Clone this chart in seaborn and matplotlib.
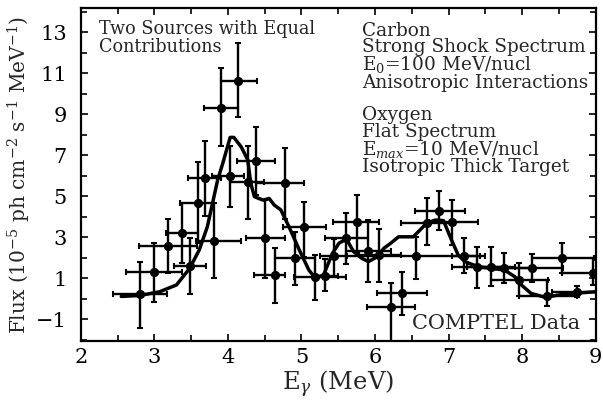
import matplotlib
matplotlib.use("Agg")
import matplotlib.pyplot as plt
import seaborn as sns
import numpy as np
import pandas as pd
from matplotlib.ticker import MultipleLocator, FixedLocator

# ---- data points ----
energy = [2.81, 3.00, 3.19, 3.38, 3.48, 3.59, 3.69, 3.81, 3.91, 4.14, 4.03, 4.27, 4.38, 4.78,
          4.51, 4.64, 5.04, 4.91, 5.19, 5.32, 5.44, 5.61, 5.75, 5.90, 6.05, 6.22, 6.36, 6.55,
          6.70, 6.87, 7.04, 7.21, 7.39, 7.58, 7.75, 7.96, 8.14, 8.34, 8.54, 8.74, 8.96]
flux = [0.20, 1.28, 2.55, 3.18, 1.57, 4.68, 5.88, 2.83, 9.30, 10.62, 6.00, 5.70, 6.71, 5.62,
        2.94, 1.15, 3.47, 1.96, 1.05, 1.12, 2.05, 2.94, 3.75, 2.33, 2.12, -0.43, 0.25, 2.05,
        3.67, 4.27, 3.75, 2.07, 1.52, 1.55, 1.47, 0.90, 1.50, 0.12, 2.00, 0.33, 1.26]
e_low = [2.44, 2.62, 2.79, 3.16, 3.27, 3.35, 3.46, 3.57, 3.67, 3.91, 3.79, 4.03, 4.12, 4.38,
         4.24, 4.36, 4.75, 4.64, 4.90, 5.15, 5.25, 5.32, 5.43, 5.60, 5.78, 5.89, 6.03, 5.60,
         6.35, 6.54, 6.73, 7.04, 7.04, 7.25, 7.40, 7.58, 7.75, 7.96, 8.14, 8.40, 8.54]
e_high = [3.17, 3.37, 3.58, 3.59, 3.70, 3.80, 3.91, 4.18, 4.14, 4.39, 4.22, 4.49, 4.64, 5.04,
          4.78, 4.78, 5.33, 5.19, 5.61, 5.50, 5.62, 5.90, 6.06, 6.21, 6.35, 6.54, 6.70, 7.50,
          7.02, 7.22, 7.40, 7.42, 7.75, 7.90, 8.10, 8.35, 8.55, 8.75, 8.98, 9.00, 9.30]
f_low = [-1.44, -0.16, 1.26, 1.75, 0.22, 2.69, 4.04, 0.98, 7.45, 8.87, 4.48, 3.88, 5.05, 3.90,
         0.98, -0.20, 2.01, 0.66, -0.07, 0.37, 1.10, 1.68, 2.20, 0.82, 0.82, -2.10, -0.80, 0.94,
         2.61, 3.34, 2.61, 1.23, 0.53, 0.61, 0.74, 0.12, 0.79, -0.37, 1.23, 0.09, 0.66]
f_high = [1.80, 2.69, 3.86, 4.64, 2.97, 6.64, 7.68, 4.64, 11.26, 12.45, 7.45, 7.45, 8.38, 7.36,
          4.80, 2.48, 4.69, 3.26, 2.12, 1.95, 2.89, 4.19, 5.05, 3.83, 3.37, 0.77, 1.28, 2.99,
          4.88, 5.24, 4.80, 2.94, 2.50, 2.50, 2.23, 1.72, 2.16, 0.90, 2.69, 0.61, 1.99]

# ---- model curve ----
model_e = [2.55, 2.81, 3.07, 3.30, 3.48, 3.61, 3.72, 3.79, 3.86, 3.93, 4.03, 4.08, 4.18, 4.27,
           4.31, 4.36, 4.42, 4.48, 4.56, 4.63, 4.72, 4.83, 4.97, 5.10, 5.19, 5.30, 5.42, 5.51,
           5.61, 5.71, 5.82, 5.91, 6.03, 6.12, 6.21, 6.32, 6.52, 6.70, 6.82, 6.93, 7.04, 7.13,
           7.22, 7.40, 7.76, 7.90, 7.99, 8.12, 8.31, 8.58, 9.00]
model_f = [0.10, 0.15, 0.33, 0.66, 1.47, 2.37, 3.50, 4.64, 5.78, 6.60, 7.86, 7.86, 7.40, 6.76,
           5.62, 4.97, 4.88, 4.80, 4.88, 4.56, 4.32, 3.50, 2.37, 1.39, 0.99, 1.15, 2.20, 2.70,
           2.90, 2.28, 1.96, 1.80, 2.04, 2.45, 2.69, 3.01, 3.01, 3.67, 3.83, 3.80, 2.85, 2.12,
           1.80, 1.55, 1.39, 1.06, 0.66, 0.25, 0.06, 0.22, 0.33]

x_ticks = [2, 3, 4, 5, 6, 7, 8, 9]
y_ticks = [-1, 1, 3, 5, 7, 9, 11, 13]

sns.set_style("ticks")
plt.rcParams['font.family'] = ['DejaVu Serif']
plt.rcParams['mathtext.fontset'] = 'dejavuserif'

fig, ax = plt.subplots(figsize=(6.03, 4.03), dpi=100)
fig.subplots_adjust(left=0.134, right=0.988, top=0.980, bottom=0.154)

pts = pd.DataFrame({"E": energy, "F": flux})
e_arr = np.array(energy); f_arr = np.array(flux)
xerr = [e_arr - np.array(e_low), np.array(e_high) - e_arr]
yerr = [f_arr - np.array(f_low), np.array(f_high) - f_arr]
ax.errorbar(energy, flux, xerr=xerr, yerr=yerr, fmt='none', ecolor='black',
            elinewidth=1.7, capsize=2.2, capthick=1.5, zorder=2)
sns.scatterplot(data=pts, x="E", y="F", ax=ax, color='black', s=44, edgecolor='black',
                linewidth=0, zorder=3)
curve = pd.DataFrame({"E": model_e, "F": model_f})
sns.lineplot(data=curve, x="E", y="F", ax=ax, color='black', linewidth=2.5, sort=False,
             zorder=4)

ax.set_xlim(2, 9)
ax.set_ylim(-2.07, 14.17)
ax.set_xticks(x_ticks)
ax.set_yticks(y_ticks)
ax.xaxis.set_minor_locator(MultipleLocator(0.5))
ax.yaxis.set_minor_locator(FixedLocator([-2, 0, 2, 4, 6, 8, 10, 12, 14]))
ax.tick_params(which='both', direction='in', top=True, right=True, labelsize=15,
               width=1.2, color='black', labelcolor='black')
ax.tick_params(axis='y', which='major', pad=10)
ax.tick_params(axis='x', which='major', pad=5)
ax.tick_params(which='major', length=5)
ax.tick_params(which='minor', length=4)
for s in ax.spines.values():
    s.set_linewidth(1.6)
    s.set_color('black')

ax.set_xlabel(r"E$_\gamma$ (MeV)", fontsize=17.5, labelpad=1)
ax.set_ylabel(r"Flux (10$^{-5}$ ph cm$^{-2}$ s$^{-1}$ MeV$^{-1}$)", fontsize=14.5, labelpad=2)

ax.text(0.035, 0.965, "Two Sources with Equal\nContributions", transform=ax.transAxes,
        fontsize=12.7, va='top', ha='left', linespacing=1.0)
ax.text(0.547, 0.958,
        "Carbon\nStrong Shock Spectrum\nE$_0$=100 MeV/nucl\nAnisotropic Interactions\n\n"
        "Oxygen\nFlat Spectrum\nE$_{max}$=10 MeV/nucl\nIsotropic Thick Target",
        transform=ax.transAxes, fontsize=13.3, va='top', ha='left', linespacing=0.88)
ax.text(0.97, 0.025, "COMPTEL Data", transform=ax.transAxes, fontsize=15,
        va='bottom', ha='right')

fig.savefig("out.png", dpi=100)
